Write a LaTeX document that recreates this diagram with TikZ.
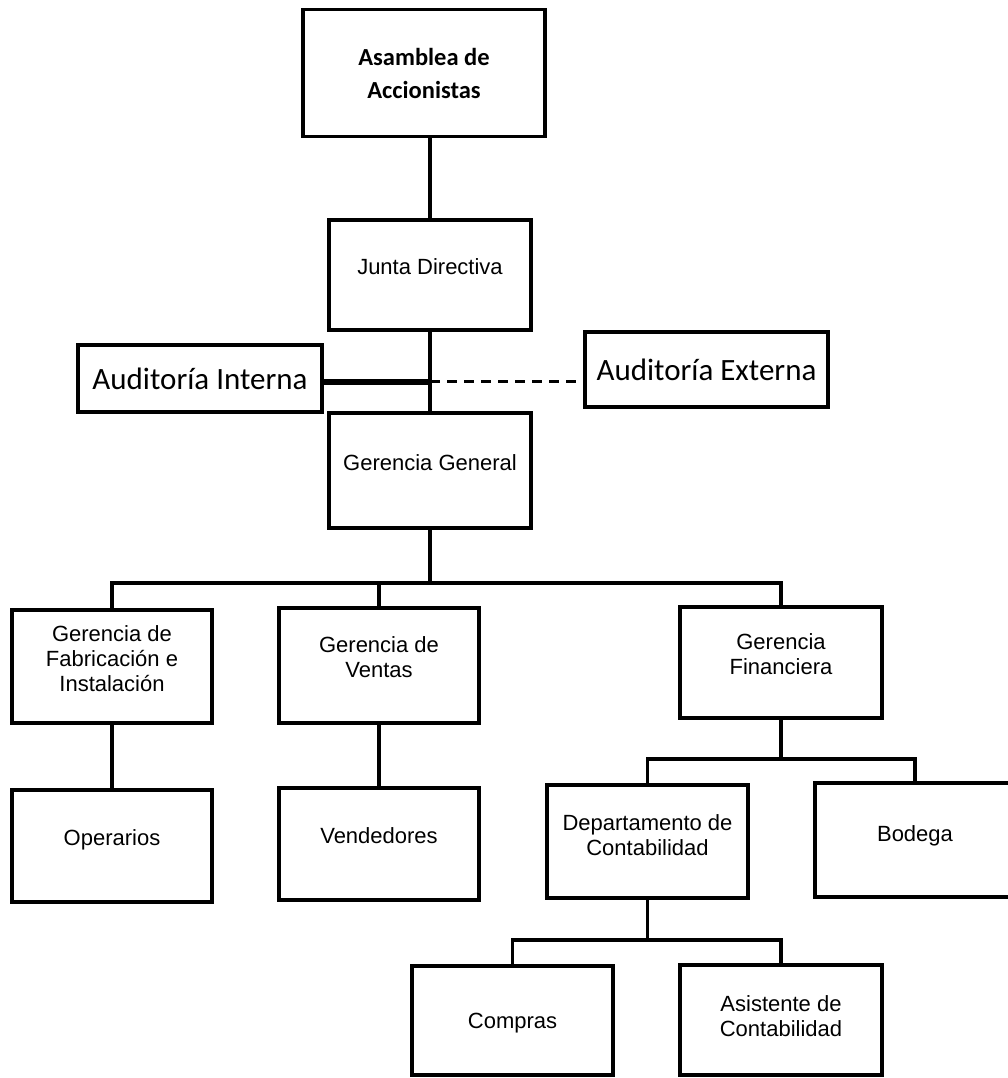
\documentclass[tikz,border=0pt]{standalone}
\usepackage{fontspec}
\setmainfont{Liberation Sans}
\newfontfamily\calibri{Carlito}
\usetikzlibrary{positioning}
\tikzset{
    box/.style={draw, line width=3.5pt, align=center, inner sep=2pt,
        minimum width=200pt, minimum height=113pt, text depth=16pt,
        font=\fontsize{22}{25}\selectfont}, % Standard chart box, text sits high
    audit/.style={box, minimum width=244pt, minimum height=70pt, text depth=0pt,
        font=\calibri\fontsize{31}{36}\selectfont}, % Audit boxes
    link/.style={line width=3.5pt}, % Solid connector
}

\begin{document}
\begin{tikzpicture}[
    on grid,
    x=1pt, y=1pt,
    every node/.style={text=black}
]
    \useasboundingbox (0,0) rectangle (1008,-1078);

    % --- Boxes ---
    \node[box, minimum width=242pt, minimum height=127pt, text depth=0pt,
        font=\calibri\bfseries\fontsize{24.5}{33}\selectfont]
        (asamblea) at (424,-73) {Asamblea de\\Accionistas};
    \node[box, minimum width=202pt, minimum height=110pt] (junta)
        [below=202pt of asamblea, xshift=6pt] {Junta Directiva};
    \node[box, minimum width=202pt, minimum height=115pt] (gerencia)
        [below=195.5pt of junta] {Gerencia General};

    \node[audit, minimum height=67pt] (interna)
        [below left=103.5pt and 230pt of junta] {Auditoría Interna};
    \node[audit, minimum width=243pt, minimum height=75pt] (externa)
        [below right=94.5pt and 276.5pt of junta] {Auditoría Externa};

    \node[box] (gfab) [below left=196pt and 318pt of gerencia]
        {Gerencia de\\Fabricación e\\Instalación};
    \node[box, minimum height=115pt] (gventas) [below left=195pt and 51pt of gerencia]
        {Gerencia de\\Ventas};
    \node[box, minimum width=202pt, minimum height=111pt] (gfin)
        [below right=192pt and 351pt of gerencia] {Gerencia\\Financiera};

    \node[box, minimum height=112pt] (operarios) [below=179.5pt of gfab] {Operarios};
    \node[box, minimum height=112pt] (vendedores) [below=178.5pt of gventas] {Vendedores};
    \node[box, minimum width=201pt, text depth=12pt] (dconta) [below left=179pt and 133.5pt of gfin]
        {Departamento de\\Contabilidad};
    \node[box, minimum height=114pt, text depth=12pt] (bodega) [below right=177.5pt and 134pt of gfin]
        {Bodega};

    \node[box, minimum width=201pt, minimum height=109pt, text depth=0pt] (compras)
        [below left=179pt and 135pt of dconta] {Compras};
    \node[box, minimum width=202pt, minimum height=110pt, text depth=8pt] (asistente)
        [below right=178.5pt and 133.5pt of dconta] {Asistente de\\Contabilidad};

    % --- Connectors ---
    \draw[link] (junta.north) -- (junta.north |- asamblea.south);
    \draw[link] (junta) -- (gerencia);
    \draw[line width=6pt] ([yshift=-3pt]interna.east) -- ([yshift=-3pt]interna.east -| junta.south) coordinate (cross);
    \draw[line width=2.8pt, dash pattern=on 10pt off 7pt] (cross) -- (cross -| externa.west);

    % Gerencia General to the three managers
    \draw[link] (gerencia.south) -- ++(0,-53) coordinate (busA);
    \draw[link] (gfab.north) |- (busA) -| (gfin.north);
    \draw[link] (gventas.north) -- (gventas.north |- busA);
    \draw[link] (gfab) -- (operarios);
    \draw[link] (gventas) -- (vendedores);

    % Finance branch
    \draw[link] (gfin.south) -- ++(0,-39) coordinate (busB);
    \draw[link] (dconta.north) |- (busB) -| (bodega.north);
    \draw[link] (dconta.south) -- ++(0,-40) coordinate (busC);
    \draw[link] (compras.north) |- (busC) -| (asistente.north);

\end{tikzpicture}
\end{document}
